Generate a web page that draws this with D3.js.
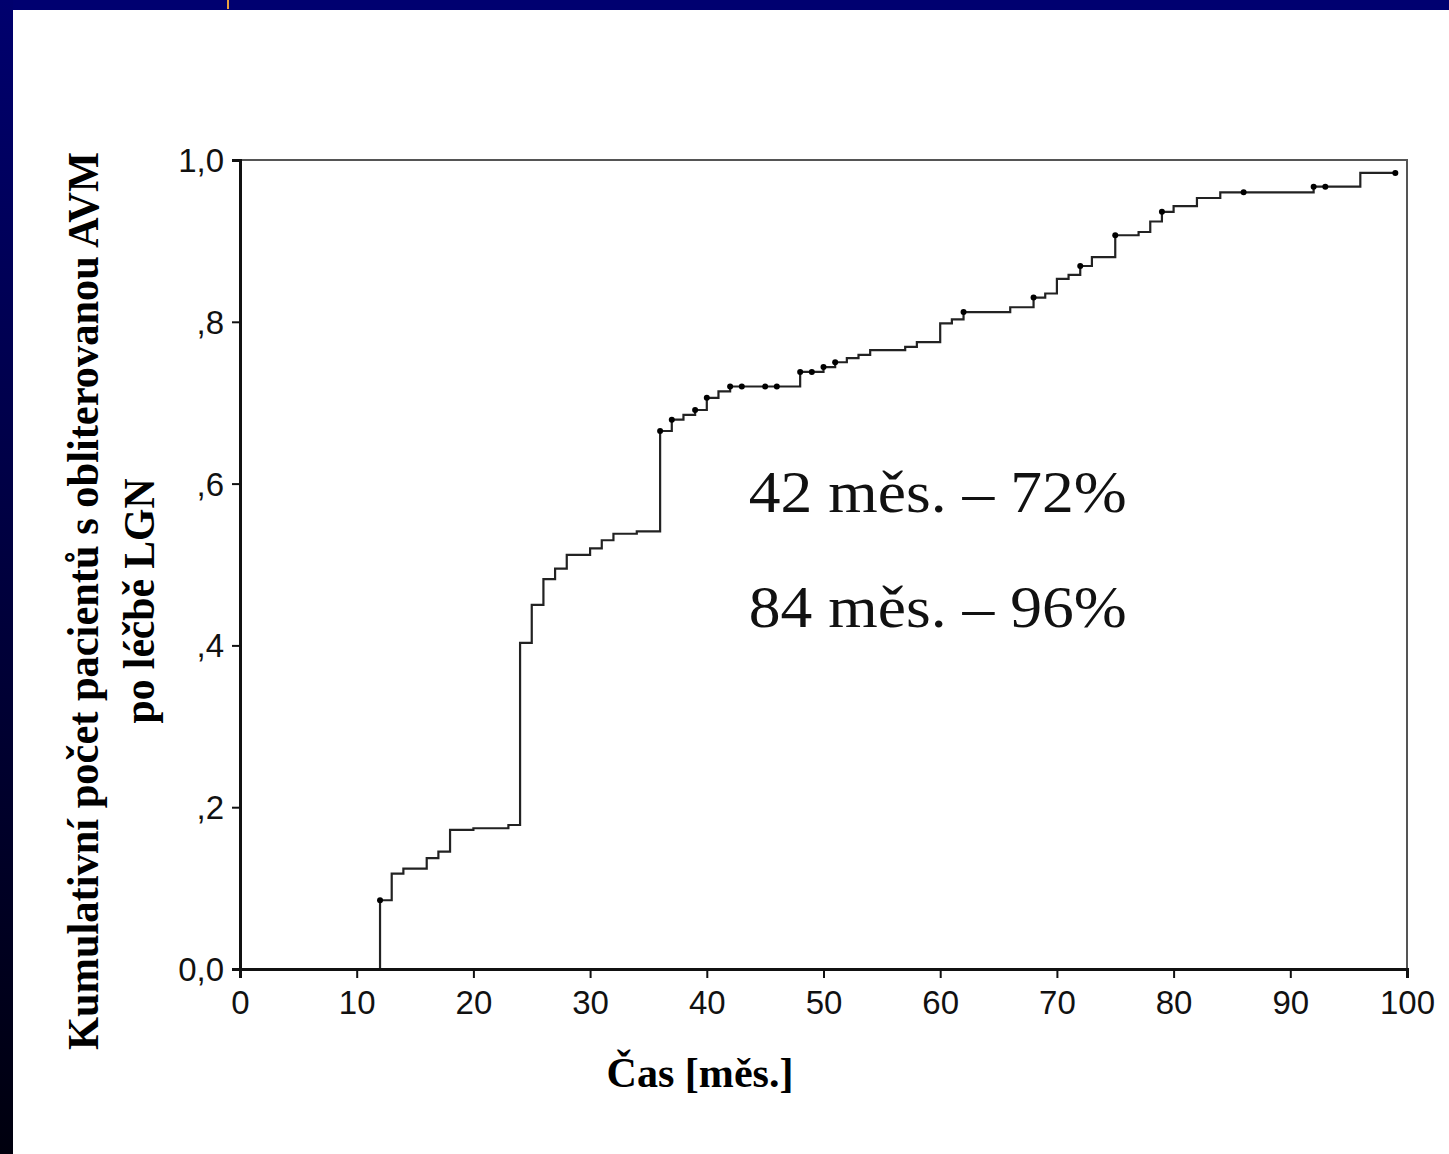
<!DOCTYPE html>
<html>
<head>
<meta charset="utf-8">
<script src="https://cdn.jsdelivr.net/npm/d3@7"></script>
<style>
  body { margin: 0; background: #fff; }
  svg { display: block; }
</style>
</head>
<body>
<div id="chart"></div>
<script>
var svgWidth = 1449;
var svgHeight = 1154;

// step times (months) and cumulative proportion after each step
var stepTimes = [12, 13, 14, 16, 17, 18, 20, 23, 24, 25, 26, 27, 28, 30, 31, 32, 34, 36, 37, 38, 39, 40, 41, 42,
  48, 50, 51, 52, 53, 54, 57, 58, 60, 61, 62, 66, 68, 69, 70, 71, 72, 73, 75, 77, 78, 79, 80, 82, 84, 92, 96];
var stepValues = [0.085, 0.118, 0.124, 0.137, 0.145, 0.172, 0.174, 0.178, 0.403, 0.450, 0.482, 0.495, 0.512, 0.520,
  0.530, 0.538, 0.541, 0.665, 0.679, 0.685, 0.691, 0.706, 0.714, 0.720, 0.738, 0.744, 0.750, 0.755, 0.759, 0.765,
  0.769, 0.775, 0.798, 0.803, 0.812, 0.818, 0.830, 0.835, 0.853, 0.858, 0.869, 0.880, 0.907, 0.911, 0.924, 0.936,
  0.943, 0.953, 0.960, 0.967, 0.984];
var endTime = 99;

// censored observations (months)
var censorTimes = [12, 36, 37, 39, 40, 42, 43, 45, 46, 48, 49, 50, 51, 62, 68, 72, 75, 79, 86, 92, 93, 99];

var xTicks = [0, 10, 20, 30, 40, 50, 60, 70, 80, 90, 100];
var yTicks = [0, 0.2, 0.4, 0.6, 0.8, 1.0];
var yTickLabels = ["0,0", ",2", ",4", ",6", ",8", "1,0"];

var annotations = ["42 měs. – 72%", "84 měs. – 96%"];

var margin = { top: 160, right: 42, bottom: 185, left: 240 };
var width = svgWidth - margin.left - margin.right;
var height = svgHeight - margin.top - margin.bottom;

var svg = d3.select("#chart").append("svg").attr("width", svgWidth).attr("height", svgHeight);

// slide frame
var defs = svg.append("defs");
var grad = defs.append("linearGradient").attr("id", "leftStrip").attr("x1", 0).attr("y1", 0).attr("x2", 0).attr("y2", 1);
grad.append("stop").attr("offset", "0%").attr("stop-color", "#00006e");
grad.append("stop").attr("offset", "100%").attr("stop-color", "#00000e");
svg.append("rect").attr("width", svgWidth).attr("height", svgHeight).attr("fill", "#fff");
svg.append("rect").attr("x", 0).attr("y", 0).attr("width", svgWidth).attr("height", 10).attr("fill", "#000070");
svg.append("rect").attr("x", 0).attr("y", 0).attr("width", 13).attr("height", svgHeight).attr("fill", "url(#leftStrip)");
svg.append("rect").attr("x", 227).attr("y", 0).attr("width", 2).attr("height", 9).attr("fill", "#e8a040");

var chartGroup = svg.append("g").attr("transform", `translate(${margin.left}, ${margin.top})`);

var xScale = d3.scaleLinear().domain([0, 100]).range([0, width]);
var yScale = d3.scaleLinear().domain([0, 1]).range([height, 0]);

// top and right frame
chartGroup.append("rect")
  .attr("x", 0).attr("y", 0).attr("width", width).attr("height", height)
  .attr("fill", "none").attr("stroke", "#555").attr("stroke-width", 2);

// step curve
var stepData = [{ t: 0, v: 0 }];
stepTimes.forEach(function(t, i) { stepData.push({ t: t, v: stepValues[i] }); });
stepData.push({ t: endTime, v: stepValues[stepValues.length - 1] });

function valueAt(t) {
  var v = 0;
  stepTimes.forEach(function(s, i) { if (s <= t) v = stepValues[i]; });
  return v;
}

var line = d3.line().x(d => xScale(d.t)).y(d => yScale(d.v)).curve(d3.curveStepAfter);
chartGroup.append("path").datum(stepData)
  .attr("d", line).attr("fill", "none").attr("stroke", "#222").attr("stroke-width", 2.2);

chartGroup.selectAll(".censor").data(censorTimes).enter().append("circle")
  .attr("class", "censor")
  .attr("cx", d => xScale(d)).attr("cy", d => yScale(valueAt(d)))
  .attr("r", 3).attr("fill", "#000");

// axes
var xAxis = d3.axisBottom(xScale).tickValues(xTicks).tickSize(9).tickPadding(6);
var yAxis = d3.axisLeft(yScale).tickValues(yTicks).tickSize(8).tickPadding(8)
  .tickFormat((d, i) => yTickLabels[i]);

var gx = chartGroup.append("g").attr("transform", `translate(0, ${height})`).call(xAxis);
var gy = chartGroup.append("g").call(yAxis);

[gx, gy].forEach(function(g) {
  g.select(".domain").attr("stroke", "#111").attr("stroke-width", 3);
  g.selectAll(".tick line").attr("stroke", "#111").attr("stroke-width", 2);
  g.selectAll(".tick text").attr("fill", "#111")
    .style("font-family", "'Liberation Sans', Arial, sans-serif").style("font-size", "33px");
});
gy.selectAll(".tick text").attr("dy", "0.35em");
gx.selectAll(".tick text").attr("dy", "0.9em");

// annotation text
chartGroup.selectAll(".note").data(annotations).enter().append("text")
  .attr("class", "note")
  .attr("x", xScale(43.6))
  .attr("y", (d, i) => yScale(0.565) + i * 115)
  .attr("fill", "#111")
  .attr("textLength", 378).attr("lengthAdjust", "spacingAndGlyphs")
  .style("font-family", "'Liberation Serif', 'Times New Roman', serif")
  .style("font-size", "60px")
  .text(d => d);

// axis titles
svg.append("text")
  .attr("x", 700).attr("y", 1087)
  .attr("text-anchor", "middle")
  .attr("textLength", 187).attr("lengthAdjust", "spacingAndGlyphs")
  .style("font-family", "'Liberation Serif', 'Times New Roman', serif")
  .style("font-weight", "bold").style("font-size", "42px")
  .text("Čas [měs.]");

var yTitle = svg.append("g").attr("transform", "translate(0, 601) rotate(-90)");
yTitle.append("text")
  .attr("x", 0).attr("y", 98)
  .attr("text-anchor", "middle")
  .attr("textLength", 898).attr("lengthAdjust", "spacingAndGlyphs")
  .style("font-family", "'Liberation Serif', 'Times New Roman', serif")
  .style("font-weight", "bold").style("font-size", "44px")
  .text("Kumulativní počet pacientů s obliterovanou AVM");
yTitle.append("text")
  .attr("x", 0).attr("y", 154)
  .attr("text-anchor", "middle")
  .attr("textLength", 245).attr("lengthAdjust", "spacingAndGlyphs")
  .style("font-family", "'Liberation Serif', 'Times New Roman', serif")
  .style("font-weight", "bold").style("font-size", "44px")
  .text("po léčbě LGN");
</script>
</body>
</html>
